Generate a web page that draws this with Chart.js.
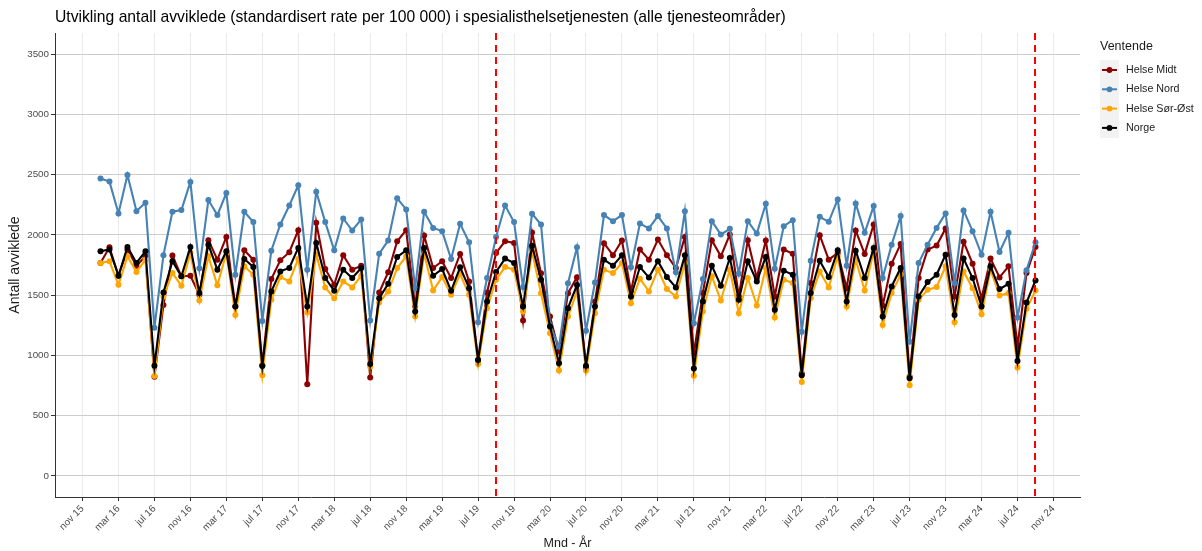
<!DOCTYPE html>
<html>
<head>
<meta charset="utf-8">
<script src="https://cdn.jsdelivr.net/npm/chart.js@4.4.0/dist/chart.umd.min.js"></script>
<style>
  html, body { margin: 0; padding: 0; background: #fff; }
</style>
</head>
<body>
<canvas id="chart" width="1202" height="551"></canvas>
<script>
// monthly values, jan 16 .. sep 24 (index 0 = jan 16)
const helseMidt = [
  1767, 1897, 1661, 1878, 1744, 1822, 822, 1419, 1828, 1656, 1661, 1503,
  1956, 1794, 1983, 1405, 1872, 1794, 919, 1633, 1789, 1856, 2039, 761,
  2100, 1717, 1586, 1831, 1711, 1744, 817, 1522, 1690, 1947, 2039, 1406,
  1994, 1725, 1781, 1642, 1842, 1614, 961, 1522, 1850, 1947, 1933, 1289,
  2020, 1682, 1323, 1032, 1516, 1649, 900, 1447, 1931, 1831, 1953, 1531,
  1878, 1794, 1961, 1831, 1725, 1983, 1017, 1517, 1956, 1822, 2003, 1489,
  1956, 1642, 1953, 1489, 1878, 1844, 850, 1600, 1997, 1794, 1850, 1558,
  2036, 1842, 2086, 1411, 1761, 1925, 822, 1642, 1878, 1911, 2053, 1489,
  1942, 1761, 1475, 1803, 1647, 1739, 1072, 1683, 1900
];
const helseNord = [
  2467, 2442, 2178, 2497, 2197, 2267, 1230, 1830, 2192, 2206, 2439, 1722,
  2289, 2164, 2347, 1669, 2192, 2106, 1286, 1869, 2086, 2244, 2411, 1711,
  2358, 2106, 1872, 2136, 2036, 2128, 1289, 1844, 1953, 2303, 2211, 1558,
  2192, 2058, 2031, 1800, 2092, 1939, 1275, 1642, 1983, 2244, 2106, 1567,
  2175, 2086, 1253, 1073, 1599, 1898, 1204, 1605, 2164, 2114, 2164, 1731,
  2094, 2053, 2156, 2053, 1689, 2197, 1267, 1633, 2114, 2003, 2050, 1678,
  2114, 2011, 2258, 1719, 2072, 2122, 1197, 1786, 2150, 2108, 2294, 1744,
  2261, 2017, 2239, 1642, 1919, 2156, 1114, 1767, 1919, 2058, 2178, 1600,
  2203, 2031, 1836, 2192, 1858, 2017, 1314, 1706, 1939
];
const helseSorOst = [
  1767, 1781, 1586, 1822, 1692, 1794, 828, 1489, 1683, 1578, 1850, 1456,
  1822, 1581, 1850, 1336, 1739, 1669, 836, 1461, 1650, 1614, 1800, 1355,
  1836, 1564, 1475, 1614, 1564, 1661, 906, 1439, 1530, 1725, 1822, 1322,
  1844, 1539, 1650, 1503, 1675, 1503, 928, 1392, 1628, 1733, 1711, 1364,
  1862, 1516, 1184, 874, 1322, 1530, 874, 1350, 1710, 1683, 1767, 1433,
  1636, 1531, 1711, 1550, 1489, 1767, 831, 1364, 1656, 1456, 1711, 1350,
  1642, 1414, 1725, 1314, 1628, 1600, 780, 1475, 1697, 1564, 1822, 1406,
  1794, 1539, 1864, 1253, 1517, 1669, 753, 1461, 1544, 1567, 1739, 1275,
  1697, 1558, 1342, 1711, 1497, 1517, 900, 1386, 1539
];
const norge = [
  1864, 1878, 1661, 1900, 1767, 1864, 914, 1522, 1781, 1656, 1900, 1517,
  1919, 1711, 1864, 1405, 1800, 1733, 911, 1530, 1697, 1725, 1892, 1406,
  1933, 1642, 1536, 1711, 1642, 1725, 928, 1475, 1594, 1817, 1872, 1364,
  1892, 1661, 1717, 1536, 1731, 1558, 961, 1448, 1692, 1803, 1767, 1406,
  1909, 1627, 1240, 935, 1392, 1585, 915, 1406, 1794, 1744, 1831, 1489,
  1733, 1647, 1781, 1650, 1564, 1831, 892, 1448, 1744, 1578, 1808, 1461,
  1781, 1614, 1817, 1378, 1703, 1669, 836, 1517, 1786, 1650, 1872, 1447,
  1869, 1642, 1892, 1322, 1572, 1725, 811, 1489, 1608, 1669, 1836, 1336,
  1803, 1642, 1406, 1739, 1550, 1594, 953, 1439, 1622
];

const seriesNames = ["Helse Midt", "Helse Nord", "Helse Sør-Øst", "Norge"];
const seriesColors = ["#8b0000", "#4682b4", "#ffa500", "#000000"];
const seriesValues = [helseMidt, helseNord, helseSorOst, norge];

// x tick labels every 4 months, first one is nov 15 (index -2)
const tickLabels = [
  "nov 15", "mar 16", "jul 16", "nov 16", "mar 17", "jul 17", "nov 17",
  "mar 18", "jul 18", "nov 18", "mar 19", "jul 19", "nov 19", "mar 20",
  "jul 20", "nov 20", "mar 21", "jul 21", "nov 21", "mar 22", "jul 22",
  "nov 22", "mar 23", "jul 23", "nov 23", "mar 24", "jul 24", "nov 24"
];
const firstTickIndex = -2;
const yTicks = [0, 500, 1000, 1500, 2000, 2500, 3000, 3500];
// dashed markers at sep 19 and sep 24
const markerIndex = [44, 104];

const FONT = "'Liberation Sans', Arial, sans-serif";
Chart.defaults.font.family = FONT;

const markerLines = {
  id: "markerLines",
  afterDatasetsDraw(chart) {
    const { ctx, chartArea, scales } = chart;
    ctx.save();
    ctx.strokeStyle = "#ff0000";
    ctx.lineWidth = 2;
    ctx.setLineDash([7, 5]);
    markerIndex.forEach(m => {
      const x = Math.round(scales.x.getPixelForValue(m));
      ctx.beginPath();
      ctx.moveTo(x, chartArea.top);
      ctx.lineTo(x, chartArea.bottom);
      ctx.stroke();
    });
    ctx.restore();
  }
};

const titleAndLegend = {
  id: "titleAndLegend",
  afterDraw(chart) {
    const ctx = chart.ctx;
    ctx.save();
    ctx.textBaseline = "middle";
    ctx.fillStyle = "#000";
    ctx.font = "15.7px " + FONT;
    ctx.fillText("Utvikling antall avviklede (standardisert rate per 100 000) i spesialisthelsetjenesten (alle tjenesteområder)", 55, 18);

    // legend
    ctx.fillStyle = "#1a1a1a";
    ctx.font = "12.5px " + FONT;
    ctx.fillText("Ventende", 1100, 47);
    ctx.fillStyle = "#f2f2f2";
    ctx.fillRect(1100, 60, 19, 78);
    seriesNames.forEach((name, i) => {
      const y = 70 + i * 19.3;
      ctx.strokeStyle = seriesColors[i];
      ctx.fillStyle = seriesColors[i];
      ctx.lineWidth = 2;
      ctx.beginPath();
      ctx.moveTo(1102, y);
      ctx.lineTo(1117, y);
      ctx.stroke();
      ctx.beginPath();
      ctx.arc(1109.5, y, 2.9, 0, Math.PI * 2);
      ctx.fill();
      ctx.fillStyle = "#1a1a1a";
      ctx.font = "10.7px " + FONT;
      ctx.fillText(name, 1126, y);
    });
    ctx.restore();
  }
};

// draw Norge on top, Helse Midt at the bottom
const drawOrder = [3, 2, 1, 0];
const datasets = drawOrder.map(k => ({
  label: seriesNames[k],
  data: seriesValues[k].map((v, i) => ({ x: i, y: v })),
  borderColor: seriesColors[k],
  backgroundColor: seriesColors[k],
  borderWidth: 2.1,
  pointRadius: 3,
  pointBorderWidth: 0,
  pointHoverRadius: 3,
  tension: 0
}));

new Chart(document.getElementById("chart"), {
  type: "line",
  data: { datasets },
  plugins: [markerLines, titleAndLegend],
  options: {
    responsive: false,
    animation: false,
    devicePixelRatio: 1,
    layout: { padding: { top: 33, right: 122, left: 0, bottom: 0 } },
    plugins: { legend: { display: false }, tooltip: { enabled: false } },
    scales: {
      x: {
        type: "linear",
        min: -5.06,
        max: 108.95,
        afterBuildTicks: s => { s.ticks = tickLabels.map((t, i) => ({ value: firstTickIndex + 4 * i })); },
        afterFit: s => { s.height = 54; },
        grid: { color: "#ebebeb", lineWidth: 1, tickLength: 4, tickColor: "#333" },
        border: { display: true, color: "#333", width: 1 },
        ticks: {
          autoSkip: false, minRotation: 45, maxRotation: 45, padding: 2,
          color: "#4d4d4d", font: { size: 10 },
          callback: (v, i) => tickLabels[i]
        },
        title: { display: true, text: "Mnd - År", color: "#1a1a1a", font: { size: 12.5 }, padding: { top: 0, bottom: 0 } }
      },
      y: {
        min: -175,
        max: 3675,
        afterBuildTicks: s => { s.ticks = yTicks.map(v => ({ value: v })); },
        afterFit: s => { s.width = 55; },
        grid: { color: "#cccccc", lineWidth: 1, tickLength: 4, tickColor: "#333" },
        border: { display: true, color: "#333", width: 1 },
        ticks: { color: "#4d4d4d", font: { size: 9.8 }, padding: 2, callback: v => String(v) },
        title: { display: true, text: "Antall avviklede", color: "#1a1a1a", font: { size: 14 }, padding: { top: 7, bottom: 0 } }
      }
    }
  }
});
</script>
</body>
</html>
